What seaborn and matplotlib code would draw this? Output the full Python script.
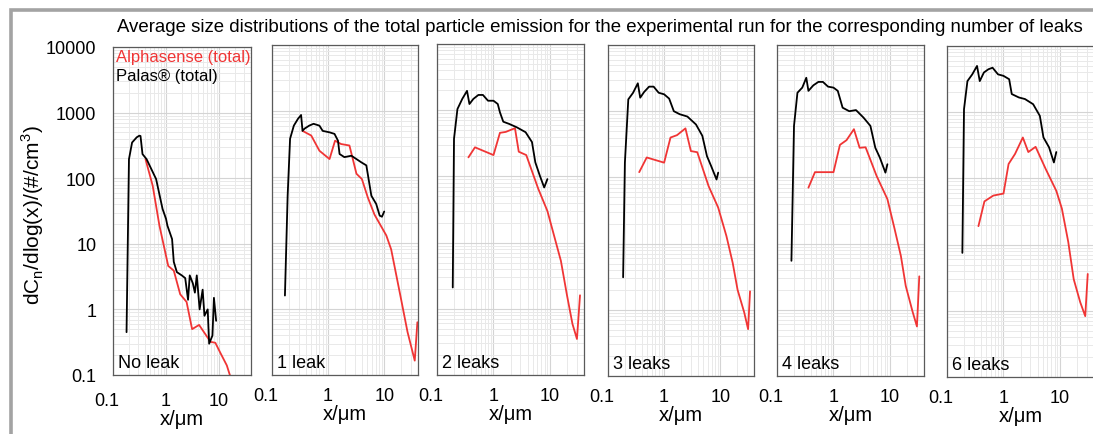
import matplotlib
matplotlib.use("Agg")
import matplotlib.pyplot as plt
import seaborn as sns
import pandas as pd
from matplotlib.patches import Rectangle
from matplotlib.transforms import ScaledTranslation

# Palas (black) and Alphasense (red) curves per panel
pal_x_0 = [0.18, 0.20, 0.229, 0.28, 0.314, 0.33, 0.36, 0.43, 0.65, 0.86, 1.0, 1.06, 1.3, 1.4, 1.6, 1.98, 2.3, 2.6, 2.8, 3.2, 3.5, 3.8, 4.3, 4.9, 5.3, 6.1, 6.5, 7.5, 8.0, 8.8]
pal_y_0 = [0.45, 195, 350, 420, 445, 440, 233, 195, 97, 34, 24, 19, 11.8, 5.3, 3.7, 3.3, 3.0, 1.4, 3.3, 2.5, 1.8, 3.3, 1.0, 2.0, 0.8, 1.0, 0.3, 0.4, 1.5, 0.67]
alp_x_0 = [0.41, 0.56, 0.75, 1.1, 1.4, 1.85, 2.44, 3.1, 4.2, 6.9, 8.5, 10.5, 14, 17]
alp_y_0 = [195, 77, 19, 4.6, 3.9, 1.7, 1.3, 0.5, 0.58, 0.32, 0.31, 0.22, 0.14, 0.085]

pal_x_1 = [0.17, 0.19, 0.21, 0.245, 0.29, 0.33, 0.35, 0.38, 0.46, 0.55, 0.70, 0.80, 1.06, 1.3, 1.5, 1.6, 1.95, 2.6, 3.9, 4.8, 5.9, 7.2, 8.3, 9.1, 10]
pal_y_1 = [1.6, 52, 380, 600, 760, 870, 500, 540, 600, 640, 600, 500, 475, 450, 355, 223, 200, 210, 167, 150, 52, 39, 26, 25, 30]
alp_x_1 = [0.35, 0.50, 0.70, 1.06, 1.33, 1.7, 2.4, 3.2, 4.0, 5.1, 6.7, 10.9, 13.3, 20, 26, 35, 39]
alp_y_1 = [500, 425, 250, 187, 355, 316, 300, 112, 93, 49, 27, 13, 8, 1.4, 0.45, 0.165, 0.63]

pal_x_2 = [0.19, 0.20, 0.23, 0.28, 0.34, 0.375, 0.44, 0.54, 0.65, 0.80, 1.0, 1.19, 1.3, 1.49, 1.9, 2.6, 3.7, 4.8, 5.5, 6.6, 7.9, 9.0]
pal_y_2 = [2.1, 370, 1040, 1480, 1960, 1240, 1480, 1700, 1700, 1390, 1390, 1240, 930, 670, 620, 550, 465, 330, 163, 103, 68, 91]
alp_x_2 = [0.36, 0.47, 1.0, 1.3, 1.65, 2.4, 2.8, 3.8, 6.2, 9.0, 15.6, 20, 25, 30, 34]
alp_y_2 = [194, 275, 210, 455, 470, 535, 236, 210, 65, 30, 5.3, 1.6, 0.59, 0.35, 1.6]

pal_x_3 = [0.186, 0.20, 0.23, 0.28, 0.34, 0.375, 0.44, 0.54, 0.65, 0.80, 1.0, 1.23, 1.49, 1.9, 2.6, 3.7, 4.8, 5.8, 6.9, 8.6, 9.2]
pal_y_3 = [3.1, 167, 1510, 1900, 2640, 1600, 1950, 2350, 2350, 1900, 1800, 1550, 1000, 900, 830, 630, 425, 210, 148, 93, 118]
alp_x_3 = [0.36, 0.49, 1.0, 1.3, 1.7, 2.4, 3.0, 3.9, 6.2, 9.2, 12.9, 16.7, 20.4, 26.8, 31.4, 34]
alp_y_3 = [120, 200, 167, 400, 435, 550, 250, 240, 74, 35, 13, 5.1, 2.0, 0.91, 0.51, 1.9]

pal_x_4 = [0.18, 0.20, 0.23, 0.28, 0.33, 0.36, 0.44, 0.54, 0.65, 0.80, 1.0, 1.19, 1.45, 1.9, 2.5, 3.4, 4.5, 5.5, 6.6, 8.3, 9.0]
pal_y_4 = [5.5, 600, 1900, 2270, 3200, 2030, 2460, 2770, 2770, 2350, 2270, 2030, 1130, 1000, 1040, 800, 600, 280, 200, 118, 158]
alp_x_4 = [0.36, 0.47, 1.0, 1.3, 1.7, 2.3, 2.9, 3.7, 5.8, 9.0, 12, 15.6, 19, 25, 30, 33]
alp_y_4 = [70, 120, 120, 310, 365, 535, 280, 285, 105, 47, 17, 6.5, 2.3, 0.95, 0.56, 3.2]

pal_x_5 = [0.187, 0.20, 0.23, 0.28, 0.34, 0.38, 0.45, 0.54, 0.64, 0.80, 1.0, 1.26, 1.4, 1.87, 2.4, 3.35, 4.4, 5.1, 6.4, 7.8, 8.6]
pal_y_5 = [7.5, 1110, 2950, 3730, 5000, 2950, 3980, 4450, 4700, 3730, 3540, 3150, 1880, 1670, 1580, 1320, 880, 415, 295, 174, 250]
alp_x_5 = [0.36, 0.46, 0.66, 1.0, 1.23, 1.6, 2.2, 2.75, 3.7, 5.6, 8.6, 10.8, 14, 17.5, 22.8, 28, 31]
alp_y_5 = [19, 45, 55, 59, 165, 234, 415, 250, 300, 138, 65, 35, 11, 3.0, 1.35, 0.83, 3.6]

panel_names = ["No leak", "1 leak", "2 leaks", "3 leaks", "4 leaks", "6 leaks"]
pal_x = [pal_x_0, pal_x_1, pal_x_2, pal_x_3, pal_x_4, pal_x_5]
pal_y = [pal_y_0, pal_y_1, pal_y_2, pal_y_3, pal_y_4, pal_y_5]
alp_x = [alp_x_0, alp_x_1, alp_x_2, alp_x_3, alp_x_4, alp_x_5]
alp_y = [alp_y_0, alp_y_1, alp_y_2, alp_y_3, alp_y_4, alp_y_5]

y_ticks = [0.1, 1, 10, 100, 1000, 10000]
y_tick_labels = ["0.1", "1", "10", "100", "1000", "10000"]
x_ticks = [0.1, 1, 10]
x_tick_labels = ["0.1", "1", "10"]

RED = "#f03535"

sns.set_style("white")
plt.rcParams["font.family"] = ["Liberation Sans", "DejaVu Sans"]
plt.rcParams["text.color"] = "black"
plt.rcParams["xtick.color"] = "black"
plt.rcParams["ytick.color"] = "black"
plt.rcParams["axes.labelcolor"] = "black"

W, H = 1093, 435
fig = plt.figure(figsize=(W / 100, H / 100), dpi=100)

# panel boxes in pixels: left, top, right, bottom
boxes = [(113, 48, 251, 376), (272, 46, 418, 376), (437, 45, 584, 376),
         (608, 46, 754, 377), (777, 46, 924, 377), (947, 47, 1094, 378)]

for i, (l, t, r, b) in enumerate(boxes):
    ax = fig.add_axes([l / W, 1 - b / H, (r - l) / W, (b - t) / H])
    pal = pd.DataFrame({"x": pal_x[i], "y": pal_y[i]})
    alp = pd.DataFrame({"x": alp_x[i], "y": alp_y[i]})
    sns.lineplot(data=alp, x="x", y="y", ax=ax, color=RED, lw=1.3, sort=False)
    sns.lineplot(data=pal, x="x", y="y", ax=ax, color="black", lw=1.3, sort=False)
    ax.set_xscale("log")
    ax.set_yscale("log")
    ax.set_xlim(0.1, 40)
    ax.set_ylim(0.1, 10000)
    ax.grid(True, which="major", color="#d4d4d4", lw=0.8)
    ax.grid(True, which="minor", color="#e9e9e9", lw=0.7)
    ax.set_axisbelow(True)
    for s in ax.spines.values():
        s.set_color("#5a5a5a")
        s.set_linewidth(0.9)
    ax.set_xticks(x_ticks)
    ax.set_xticklabels(x_tick_labels)
    ax.set_yticks(y_ticks)
    ax.tick_params(which="both", length=0)
    ax.tick_params(axis="x", labelsize=13, pad=12 if i == 0 else 9)
    if i == 0:
        ax.set_yticklabels(y_tick_labels)
        ax.tick_params(axis="y", labelsize=13, pad=12)
    else:
        ax.set_yticklabels([])
    ax.set_xlabel("x/μm", fontsize=14.5, labelpad=0)
    ax.set_ylabel("")
    lbl = ax.get_xticklabels()[0]
    lbl.set_transform(lbl.get_transform() + ScaledTranslation(-6 / 100, 0, fig.dpi_scale_trans))
    ax.text(5 / (r - l), 4 / (b - t), panel_names[i], transform=ax.transAxes,
            ha="left", va="bottom", fontsize=13)
    if i == 0:
        ax.text(0.02, 0.995, "Alphasense (total)", transform=ax.transAxes,
                ha="left", va="top", fontsize=12, color=RED)
        ax.text(0.02, 0.935, "Palas® (total)", transform=ax.transAxes,
                ha="left", va="top", fontsize=12, color="black")

fig.text(33 / W, 1 - 215 / H, r"dC$_\mathregular{n}$/dlog(x)/(#/cm$^\mathregular{3}$)",
         rotation=90, ha="center", va="center", fontsize=15)
fig.text(600 / W, 1 - 27 / H,
         "Average size distributions of the total particle emission for the experimental run for the corresponding number of leaks",
         ha="center", va="center", fontsize=13.4)

fig.add_artist(Rectangle((11 / W, -0.1), 1.2, 1.1 - 11 / H, transform=fig.transFigure,
                         fill=False, ec="#a3a3a3", lw=2.6))

fig.savefig("out.png", dpi=100)
